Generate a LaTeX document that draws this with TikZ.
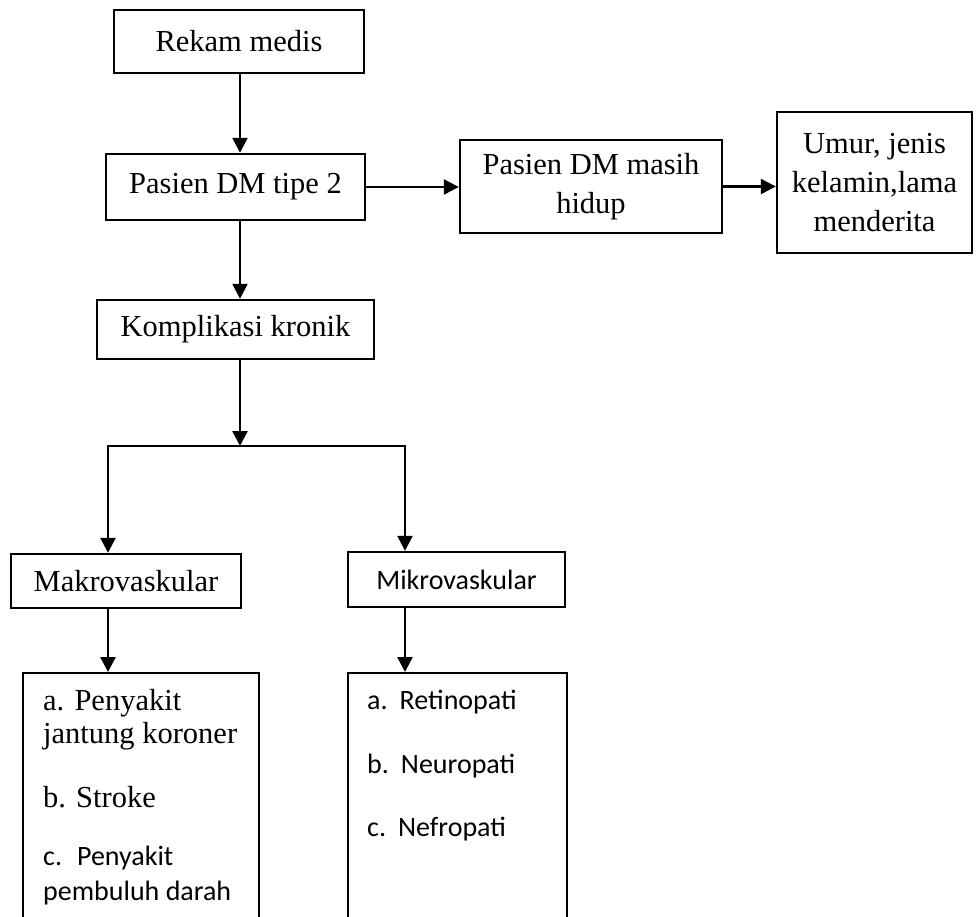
\documentclass[tikz,border=0pt]{standalone}
\usepackage{fontspec}
\setmainfont{Liberation Serif}
\newfontfamily\sansitem{Carlito}
\usetikzlibrary{arrows.meta, positioning}

\begin{document}
\begin{tikzpicture}
	[
		x=1pt, y=-1pt,
		box/.style={
				rectangle,
				line width=2.4pt,
				draw=black,
				inner sep=0pt,
				align=center,
				font=\fontsize{30.5}{39}\selectfont,
			},
		listText/.style={
				anchor=base west,
				inner sep=0pt,
				font=\fontsize{30.5}{39}\selectfont,
			},
		sansText/.style={
				anchor=base west,
				inner sep=0pt,
				font=\sansitem\fontsize{28}{34}\selectfont,
			},
		arr/.style={
				line width=2.4pt,
				-{Triangle[length=15pt,width=15pt]},
			},
		splitArr/.style={
				line width=2.4pt,
				{Triangle[length=15pt,width=15pt]}-{Triangle[length=15pt,width=15pt]},
			},
	]
	\useasboundingbox (0,0) rectangle (977,917);
	\clip (0,0) rectangle (977,917);

	% top row
	\node [box, minimum width=250pt, minimum height=63pt] (rekam)  at (239,41.5)   {Rekam medis};
	\node [box, minimum width=259pt, minimum height=66pt] (pasien) at (235.5,187)  {Pasien DM tipe 2};
	\node [box, minimum width=262pt, minimum height=93pt] (hidup)  at (591,186.5)  {Pasien DM masih\\hidup};
	\node [box, minimum width=195pt, minimum height=141pt] (umur)  at (874.5,182.5) {Umur, jenis\\kelamin,lama\\menderita};
	\node [box, minimum width=277pt, minimum height=59pt] (kompl)  at (235.5,329.5) {Komplikasi kronik};

	% second level
	\node [box, minimum width=230pt, minimum height=54pt] (makro) at (126,581) {Makrovaskular};
	\node [box, minimum width=217pt, minimum height=55pt, font=\sansitem\fontsize{28}{34}\selectfont] (mikro) at (456.5,579.5) {Mikrovaskular};

	\node [box, anchor=north west, minimum width=236pt, minimum height=270pt] (makroList) at (22,672) {};
	\node [box, anchor=north west, minimum width=219pt, minimum height=270pt] (mikroList) at (347,672) {};

	% list items
	\node [listText] (mkA1) at (43,710) {a. Penyakit};
	\node [listText] (mkA2) at (43,743) {jantung koroner};
	\node [listText] (mkB)  at (43,807) {b. Stroke};
	\node [sansText] (mkC1) at (43,865) {c.\hspace{15pt}Penyakit};
	\node [sansText] (mkC2) at (43,900) {pembuluh darah};

	\node [sansText] (miA) at (367,709) {a.\hspace{12pt}Retinopati};
	\node [sansText] (miB) at (367,773) {b.\hspace{12pt}Neuropati};
	\node [sansText] (miC) at (367,836) {c.\hspace{12pt}Nefropati};

	% connectors
	\coordinate (jc) at (240,446);
	\coordinate (jl) at (108,446);
	\coordinate (jr) at (405,446);

	\draw [arr] (rekam.south -| jc) -- (pasien.north -| jc);
	\draw [arr] (pasien.south -| jc) -- (kompl.north -| jc);
	\draw [arr] (kompl.south -| jc) -- (jc);
	\draw [splitArr] (makro.north -| jl) -- (jl) -- (jr) -- (mikro.north -| jr);
	\draw [arr] (makro.south -| jl) -- (makroList.north -| jl);
	\draw [arr] (mikro.south -| jr) -- (mikroList.north -| jr);
	\draw [arr] (pasien.east) -- (pasien.east -| hidup.west);
	\draw [arr] (hidup.east) -- (hidup.east -| umur.west);
\end{tikzpicture}
\end{document}
